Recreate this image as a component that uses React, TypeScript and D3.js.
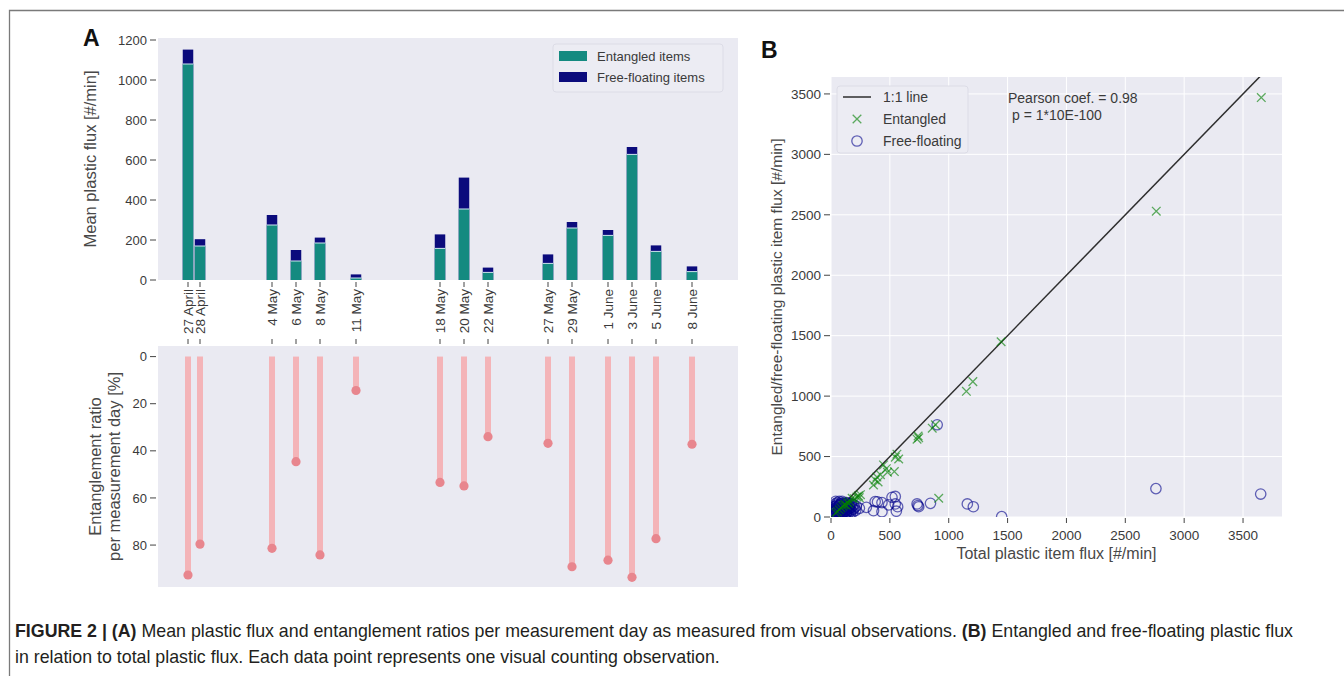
import React from "react";
import * as d3 from "d3";

// panel A: mean flux per measurement day
const days = [
  "2021-04-27", "2021-04-28", "2021-05-04", "2021-05-06", "2021-05-08",
  "2021-05-11", "2021-05-18", "2021-05-20", "2021-05-22", "2021-05-27",
  "2021-05-29", "2021-06-01", "2021-06-03", "2021-06-05", "2021-06-08",
];
const dayLabels = [
  "27 April", "28 April", "4 May", "6 May", "8 May", "11 May", "18 May",
  "20 May", "22 May", "27 May", "29 May", "1 June", "3 June", "5 June", "8 June",
];
const entangledFlux = [1080, 170, 275, 95, 185, 10, 158, 355, 38, 83, 260, 223, 628, 143, 42];
const totalFlux = [1152, 204, 325, 150, 212, 28, 228, 512, 62, 128, 290, 250, 665, 173, 68];
const entanglementRatio = [92.7, 79.6, 81.4, 44.6, 84.2, 14.4, 53.4, 54.9, 34.0, 36.8, 89.2, 86.4, 93.7, 77.3, 37.2];
const fluxTicks = [0, 200, 400, 600, 800, 1000, 1200];
const ratioTicks = [0, 20, 40, 60, 80];

// panel B: single observations [total, part]
const entangledPoints = [
  [3655, 3470], [2763, 2530], [1445, 1450], [1150, 1040], [1205, 1120],
  [887, 763], [860, 735], [740, 670], [731, 644], [745, 655], [560, 520],
  [546, 495], [575, 480], [538, 376], [446, 431], [470, 400], [480, 370],
  [390, 330], [375, 307], [361, 265], [400, 290], [420, 350], [233, 175],
  [220, 165], [250, 185], [240, 160], [915, 155], [200, 150], [180, 155],
  [160, 130], [140, 120], [120, 105], [100, 90], [85, 75], [70, 60],
  [55, 45], [40, 35], [130, 95], [110, 100], [150, 110],
];
const freePoints = [
  [3650, 190], [2760, 235], [1450, 3], [1158, 108], [1209, 85], [902, 763],
  [845, 113], [731, 108], [745, 85], [738, 95], [518, 163], [546, 170],
  [546, 108], [566, 85], [555, 48], [375, 127], [395, 125], [433, 119],
  [361, 52], [433, 44], [489, 100], [241, 72], [300, 80], [215, 90],
  [160, 55], [30, 40], [40, 55], [45, 30], [50, 70], [55, 45], [60, 90],
  [65, 25], [70, 60], [75, 100], [80, 40], [85, 75], [90, 115], [95, 55],
  [100, 30], [105, 85], [110, 65], [115, 105], [120, 45], [125, 80],
  [130, 120], [135, 60], [140, 95], [150, 70], [160, 105], [170, 50],
  [180, 85], [190, 65], [35, 15], [60, 10], [95, 20], [25, 60], [50, 100],
  [130, 30], [20, 20], [20, 45], [30, 70], [35, 90], [40, 110], [45, 80],
  [55, 120], [60, 35], [65, 65], [70, 95], [75, 20], [80, 110], [85, 50],
  [90, 85], [95, 130], [100, 60], [105, 40], [110, 95], [115, 25],
  [120, 70], [125, 110], [135, 40], [140, 75], [145, 115], [150, 35],
  [155, 90], [165, 75], [175, 110], [185, 40], [200, 75], [15, 35],
  [25, 85], [45, 55], [65, 45], [85, 25], [105, 115], [125, 55],
  [145, 55], [165, 30], [195, 100], [210, 55], [40, 130], [70, 130],
];
const scatterTicks = [0, 500, 1000, 1500, 2000, 2500, 3000, 3500];

const FONT = "'Liberation Sans', Arial, sans-serif";
const BG = "#eaeaf2";
const TXT = "#3a3a3a";
const LBL = "#484848";
const TEAL = "#148a80";
const NAVY = "#0b0b7c";

const A = { left: 158, right: 738, top: 38, bottom: 280, top2: 346, bottom2: 587 };
const B = { left: 831, right: 1282, top: 77, bottom: 517 };

function PanelA() {
  const parse = d3.timeParse("%Y-%m-%d");
  const dates = days.map((d) => parse(d) as Date);
  const x = d3
    .scaleTime()
    .domain([d3.timeHour.offset(dates[0], -60), d3.timeHour.offset(dates[dates.length - 1], 92)])
    .range([A.left, A.right]);
  const y = d3.scaleLinear().domain([0, 1210]).range([A.bottom, A.top]);
  const r = d3.scaleLinear().domain([-4.5, 97.8]).range([A.top2, A.bottom2]);
  const barW = x(d3.timeHour.offset(dates[0], 21.6)) - x(dates[0]);

  return (
    <g>
      <text x={83} y={46} fontSize={23} fontWeight="bold" fill="#111">A</text>
      <rect x={A.left} y={A.top} width={A.right - A.left} height={A.bottom - A.top} fill={BG} />
      <rect x={A.left} y={A.top2} width={A.right - A.left} height={A.bottom2 - A.top2} fill={BG} />

      {/* stacked bars */}
      {dates.map((d, i) => (
        <g key={i}>
          <rect x={x(d) - barW / 2} y={y(totalFlux[i])} width={barW}
            height={y(0) - y(totalFlux[i])} fill={NAVY} />
          <rect x={x(d) - barW / 2} y={y(entangledFlux[i])} width={barW}
            height={y(0) - y(entangledFlux[i])} fill={TEAL} />
          <line x1={x(d) - barW / 2} x2={x(d) + barW / 2} y1={y(entangledFlux[i])}
            y2={y(entangledFlux[i])} stroke="#cfe6ee" strokeWidth={1} />
        </g>
      ))}

      {/* y ticks top */}
      {fluxTicks.map((t) => (
        <g key={t}>
          <line x1={A.left - 8} x2={A.left - 2} y1={y(t)} y2={y(t)} stroke="#444" />
          <text x={A.left - 11} y={y(t)} dy="0.35em" textAnchor="end" fontSize={13} fill={TXT}>{t}</text>
        </g>
      ))}
      <text transform={`translate(90,${(A.top + A.bottom) / 2}) rotate(-90)`} textAnchor="middle"
        dominantBaseline="central" fontSize={16.5} fill={LBL}>Mean plastic flux [#/min]</text>

      {/* date ticks */}
      {dates.map((d, i) => (
        <g key={i}>
          <line x1={x(d)} x2={x(d)} y1={A.bottom + 2} y2={A.bottom + 7} stroke="#444" />
          <line x1={x(d)} x2={x(d)} y1={A.top2 - 7} y2={A.top2 - 2} stroke="#444" />
          <text transform={`translate(${x(d)},${A.bottom + 9}) rotate(-90)`} textAnchor="end"
            dominantBaseline="central" fontSize={13.5} fill={TXT}>{dayLabels[i]}</text>
        </g>
      ))}

      {/* lollipops */}
      {dates.map((d, i) => (
        <g key={i}>
          <line x1={x(d)} x2={x(d)} y1={r(0)} y2={r(entanglementRatio[i])} stroke="#f4b4b8" strokeWidth={6} />
          <circle cx={x(d)} cy={r(entanglementRatio[i])} r={4.6} fill="#e8868e" />
        </g>
      ))}
      {ratioTicks.map((t) => (
        <g key={t}>
          <line x1={A.left - 8} x2={A.left - 2} y1={r(t)} y2={r(t)} stroke="#444" />
          <text x={A.left - 11} y={r(t)} dy="0.35em" textAnchor="end" fontSize={13} fill={TXT}>{t}</text>
        </g>
      ))}
      <text transform={`translate(95,${(A.top2 + A.bottom2) / 2}) rotate(-90)`} textAnchor="middle"
        dominantBaseline="central" fontSize={16.5} fill={LBL}>Entanglement ratio</text>
      <text transform={`translate(114,${(A.top2 + A.bottom2) / 2}) rotate(-90)`} textAnchor="middle"
        dominantBaseline="central" fontSize={16.5} fill={LBL}>per measurement day [%]</text>

      {/* legend */}
      <rect x={553} y={44} width={170} height={48} rx={3} fill="#ececf3" stroke="#dcdce6" />
      <rect x={559} y={51} width={28} height={10} fill={TEAL} />
      <rect x={559} y={72} width={28} height={10} fill={NAVY} />
      <text x={597} y={56} dy="0.35em" fontSize={13} fill={TXT}>Entangled items</text>
      <text x={597} y={77} dy="0.35em" fontSize={13} fill={TXT}>Free-floating items</text>
    </g>
  );
}

function Cross({ cx, cy, s, color }: { cx: number; cy: number; s: number; color: string }) {
  return (
    <path d={`M${cx - s},${cy - s}L${cx + s},${cy + s}M${cx - s},${cy + s}L${cx + s},${cy - s}`}
      stroke={color} strokeWidth={1.3} fill="none" />
  );
}

function PanelB() {
  const x = d3.scaleLinear().domain([0, 3831]).range([B.left, B.right]);
  const y = d3.scaleLinear().domain([0, 3640]).range([B.bottom, B.top]);
  const green = "rgba(0,128,0,0.62)";
  const blue = "rgba(0,0,139,0.6)";
  return (
    <g>
      <text x={761} y={58} fontSize={23} fontWeight="bold" fill="#111">B</text>
      <defs>
        <clipPath id="clipB">
          <rect x={B.left} y={B.top} width={B.right - B.left} height={B.bottom - B.top} />
        </clipPath>
      </defs>
      <rect x={B.left} y={B.top} width={B.right - B.left} height={B.bottom - B.top} fill={BG} />
      {scatterTicks.map((t) => (
        <g key={t}>
          <line x1={x(t)} x2={x(t)} y1={B.top} y2={B.bottom} stroke="#fff" strokeWidth={1} />
          <line x1={B.left} x2={B.right} y1={y(t)} y2={y(t)} stroke="#fff" strokeWidth={1} />
        </g>
      ))}
      <g clipPath="url(#clipB)">
        <line x1={x(0)} y1={y(0)} x2={x(3900)} y2={y(3900)} stroke="#2e2e2e" strokeWidth={1.5} />
        {freePoints.map((p, i) => (
          <circle key={i} cx={x(p[0])} cy={y(p[1])} r={5.2} fill="none" stroke={blue} strokeWidth={1.3} />
        ))}
        {entangledPoints.map((p, i) => (
          <Cross key={i} cx={x(p[0])} cy={y(p[1])} s={4.3} color={green} />
        ))}
      </g>

      {scatterTicks.map((t) => (
        <g key={t}>
          <line x1={x(t)} x2={x(t)} y1={B.bottom + 1} y2={B.bottom + 6} stroke="#444" />
          <text x={x(t)} y={535} dy="0.35em" textAnchor="middle" fontSize={13.5} fill={TXT}>{t}</text>
          <line x1={B.left - 7} x2={B.left - 1} y1={y(t)} y2={y(t)} stroke="#444" />
          <text x={B.left - 10} y={y(t)} dy="0.35em" textAnchor="end" fontSize={13.5} fill={TXT}>{t}</text>
        </g>
      ))}
      <text x={(B.left + B.right) / 2} y={553} dy="0.35em" textAnchor="middle" fontSize={16} fill={LBL}>
        Total plastic item flux [#/min]
      </text>
      <text transform={`translate(776,${(B.top + B.bottom) / 2}) rotate(-90)`} textAnchor="middle"
        dominantBaseline="central" fontSize={15.5} fill={LBL}>
        Entangled/free-floating plastic item flux [#/min]
      </text>

      {/* legend */}
      <rect x={837} y={86} width={131} height={67} rx={3} fill="#ececf3" stroke="#dcdce6" />
      <line x1={843} x2={871} y1={97} y2={97} stroke="#2e2e2e" strokeWidth={1.5} />
      <Cross cx={857} cy={119} s={4.3} color={green} />
      <circle cx={857} cy={141} r={5.2} fill="none" stroke={blue} strokeWidth={1.3} />
      <text x={883} y={97} dy="0.35em" fontSize={14} fill={TXT}>1:1 line</text>
      <text x={883} y={119} dy="0.35em" fontSize={14} fill={TXT}>Entangled</text>
      <text x={883} y={141} dy="0.35em" fontSize={14} fill={TXT}>Free-floating</text>

      <text x={1008} y={98} dy="0.35em" fontSize={14} fill={TXT}>Pearson coef. = 0.98</text>
      <text x={1012} y={115} dy="0.35em" fontSize={14} fill={TXT}>p = 1*10E-100</text>
    </g>
  );
}

export default function App() {
  return (
    <svg width={1344} height={676} style={{ position: "absolute", left: 0, top: 0, background: "#fff" }}
      fontFamily={FONT}>
      <path d="M9.5,676V10.5H1344" fill="none" stroke="#7a7a7a" strokeWidth={1.3} />
      <PanelA />
      <PanelB />
      <text x={15} y={637} fontSize={17.8} fill="#231f20">
        <tspan fontWeight="bold">FIGURE 2 | (A)</tspan> Mean plastic flux and entanglement ratios per
        measurement day as measured from visual observations. <tspan fontWeight="bold">(B)</tspan>
        {" "}Entangled and free-floating plastic flux
      </text>
      <text x={15} y={663} fontSize={17.8} fill="#231f20">
        in relation to total plastic flux. Each data point represents one visual counting observation.
      </text>
    </svg>
  );
}
